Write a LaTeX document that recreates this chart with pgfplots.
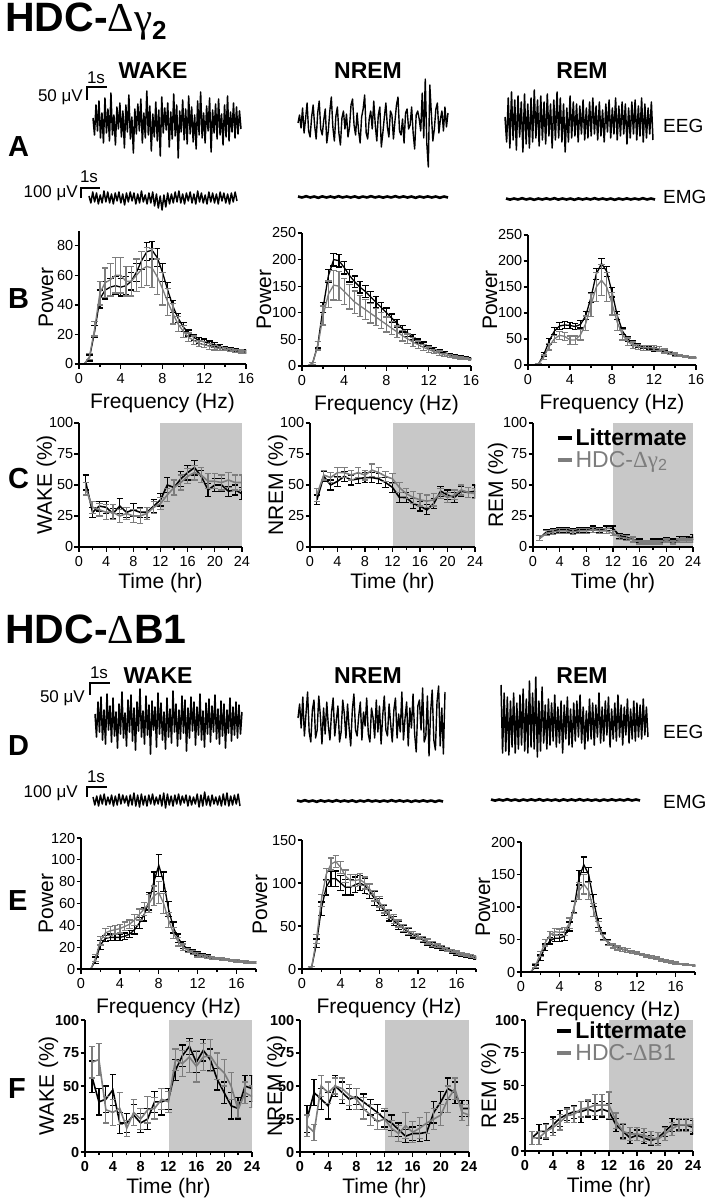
\documentclass[border=0pt]{standalone}
\usepackage{fontspec}
\setmainfont{Liberation Sans}
\newfontfamily\symf{Liberation Serif}
\usepackage{pgfplots}
\usepackage{pgfplotstable}
\pgfplotsset{compat=1.18}
\definecolor{mut}{RGB}{125,125,125}
\definecolor{shade}{RGB}{200,200,200}
\newcommand{\tf}{\fontsize{14.5}{14.5}\selectfont}
\newcommand{\lf}{\fontsize{21}{21}\selectfont}

\pgfplotsset{
  panel/.style={scale only axis, axis lines*=left, axis line style={line width=1.3pt,-},
    tick align=outside, major tick length=4.5pt, minor tick length=3pt,
    every tick/.style={black,line width=1.3pt},
    tick label style={font=\tf, inner sep=1pt},
    xticklabel style={yshift=-4pt},
    label style={font=\lf},
    /pgf/number format/assume math mode=true, enlargelimits=false, axis on top,
    xlabel style={inner sep=0pt, yshift=-8pt}, anchor=south west},
  yl/.style={ylabel style={at={([xshift=-#1pt]axis description cs:0,0.5)}, anchor=base, inner sep=0pt}},
  spec/.style={panel, xmin=0, xtick distance=4, minor x tick num=1, ymin=0,
    xlabel={Frequency (Hz)}, ylabel={Power}},
  tc/.style={panel, xmin=0, xmax=24, xtick={0,4,...,24}, minor x tick num=1,
    ymin=0, ymax=100, ytick={0,25,50,75,100}, xlabel={Time (hr)},
    xlabel style={yshift=3pt}},
  trace/.style={scale only axis, hide axis, ymin=-40, ymax=40, height=80pt,
    enlarge x limits=false, clip=false, anchor=south west},
  eb/.style={error bars/.cd, y dir=both, y explicit,
    error bar style={line width=#1, solid},
    error mark options={rotate=90, line width=#1, mark size=3.2pt}},
  leg/.style={legend style={at={#1}, anchor=north west, draw=none, fill=none,
    inner sep=0pt, font=\fontsize{23}{25}\selectfont}, legend cell align=left,
    legend image code/.code={\draw[line width=4pt] (0pt,0pt) -- (14pt,0pt);}},
}

\newcommand{\trace}[5]{\begin{axis}[trace, at={(#1pt,#2pt)}, width=#3pt]
\addplot[black, line width=#4, line join=round] table[x expr=\coordindex, y index=0, header=false, row sep=\\]{#5};
\end{axis}}

% ---------- power spectra: f, littermate mean/err, mutant mean/err
\pgfplotstableread{
f m1 e1 m2 e2
0.5 0 0.5 0 0.5
1 4 2 5 2
1.5 22 4 24 5
2 44 6 48 8
2.5 50 6 55 10
3 52 6 57 11
3.5 53 6 60 12
4 52 6 60 12
4.5 53 6 56 10
5 56 6 56 10
5.5 62 6 60 11
6 70 6 64 12
6.5 76 6 66 13
7 77 6 65 13
7.5 72 6 59 12
8 62 6 51 11
8.5 50 5 42 9
9 39 4 34 7
9.5 31 3 27 5
10 25 3 22 4
10.5 21 2 18 3
11 18 2 16 3
11.5 16 2 14 2
12 15 2 13 2
12.5 14 1.5 12 2
13 13 1.5 11 1.5
13.5 12 1 10.5 1.5
14 11 1 10 1
14.5 10 1 9.5 1
15 9.5 1 9 1
15.5 9 1 8.5 1
16 8.5 1 8 1
}\specBW
\pgfplotstableread{
f m1 e1 m2 e2
0.5 0 0.5 0 0.5
1 5 2 5 2
1.5 40 6 38 8
2 110 10 95 18
2.5 170 12 135 25
3 200 12 152 28
3.5 198 12 150 27
4 185 12 140 25
4.5 170 12 130 23
5 158 11 120 21
5.5 148 11 113 20
6 140 11 106 19
6.5 130 10 99 18
7 120 10 92 16
7.5 110 9 85 15
8 100 9 78 14
8.5 90 8 71 12
9 80 7 64 11
9.5 70 6 57 10
10 62 6 51 9
10.5 54 5 45 8
11 47 4 40 7
11.5 41 4 35 6
12 36 3 31 5
12.5 32 3 27 4
13 28 2 24 4
13.5 25 2 21 3
14 22 2 19 3
14.5 20 2 17 2
15 18 1.5 15 2
15.5 16 1.5 14 2
16 14 1 13 1.5
}\specBN
\pgfplotstableread{
f m1 e1 m2 e2
0.5 0 0.5 0 0.5
1 2 1 2 1
1.5 20 4 15 4
2 45 6 35 6
2.5 65 7 50 7
3 75 7 57 8
3.5 77 7 55 8
4 76 6 48 8
4.5 74 6 48 8
5 78 7 58 10
5.5 95 8 80 14
6 130 10 115 22
6.5 175 10 150 28
7 195 10 163 30
7.5 180 10 150 28
8 140 9 118 22
8.5 95 8 82 15
9 65 6 58 10
9.5 50 5 45 7
10 42 4 38 6
10.5 38 4 35 5
11 35 3 33 5
11.5 32 3 33 5
12 30 3 33 5
12.5 28 2 31 4
13 25 2 27 4
13.5 22 2 23 3
14 20 2 20 3
14.5 18 2 18 2
15 16 1.5 16 2
15.5 15 1.5 15 2
16 14 1 14 1.5
}\specBR
\pgfplotstableread{
f m1 e1 m2 e2
0.5 0 0.5 0 0.5
1 0 0.5 0 0.5
1.5 8 3 10 3
2 22 4 26 4
2.5 28 3 33 4
3 29 3 35 4
3.5 29 3 36 4
4 29 3 37 4
4.5 30 3 39 4
5 32 3 41 4
5.5 36 4 45 5
6 42 5 50 5
6.5 50 6 55 6
7 62 8 60 8
7.5 80 9 67 9
8 95 10 70 10
8.5 80 9 60 9
9 55 7 45 7
9.5 38 5 33 5
10 28 4 25 4
10.5 22 3 20 3
11 18 2 17 2
11.5 16 2 15 2
12 14 2 13 2
12.5 12.5 1.5 12 1.5
13 11.5 1.5 11 1.5
13.5 10.5 1 10 1
14 9.8 1 9.5 1
14.5 9 1 9 1
15 8.5 1 8.5 1
15.5 8 1 8 1
16 7.5 1 7.5 1
16.5 7 1 7 1
17 6.5 1 6.5 1
17.5 6.2 1 6.2 1
18 6 1 6 1
}\specEW
\pgfplotstableread{
f m1 e1 m2 e2
0.5 0 0.5 0 0.5
1 2 1 2 1
1.5 30 5 35 5
2 70 8 80 7
2.5 95 9 110 7
3 105 9 122 7
3.5 105 9 125 7
4 100 9 118 7
4.5 95 9 108 7
5 95 9 103 7
5.5 98 9 103 7
6 100 9 104 7
6.5 97 9 100 7
7 90 8 93 6
7.5 82 8 85 6
8 75 7 78 6
8.5 68 6 70 5
9 62 6 64 5
9.5 56 5 58 5
10 51 5 53 4
10.5 47 4 48 4
11 43 4 44 4
11.5 40 4 41 3
12 37 3 38 3
12.5 34 3 35 3
13 31 3 32 3
13.5 28 3 29 3
14 26 2 27 2
14.5 24 2 25 2
15 22 2 23 2
15.5 20 2 21 2
16 18 2 19 2
16.5 16 1.5 17 1.5
17 15 1.5 16 1.5
17.5 14 1.5 15 1.5
18 13 1.5 14 1.5
}\specEN
\pgfplotstableread{
f m1 e1 m2 e2
0.5 0 0.5 0 0.5
1 0 0.5 0 0.5
1.5 8 3 10 3
2 22 4 28 4
2.5 38 5 45 5
3 48 5 57 5
3.5 52 5 62 5
4 52 5 61 5
4.5 55 6 62 6
5 70 7 75 8
5.5 100 9 100 10
6 145 11 125 13
6.5 165 12 135 15
7 150 11 125 13
7.5 110 9 95 10
8 75 7 70 8
8.5 55 5 53 5
9 46 4 45 4
9.5 41 3 40 3
10 38 3 37 3
10.5 35 3 35 3
11 33 3 33 3
11.5 31 2 31 2
12 29 2 29 2
12.5 27 2 27 2
13 25 2 25 2
13.5 23 2 23 2
14 21 2 21 2
14.5 19 2 19 2
15 17 1.5 17 1.5
15.5 15 1.5 15.5 1.5
16 14 1.5 14 1.5
16.5 12.5 1 12.5 1
17 11.5 1 11.5 1
17.5 10.5 1 10.5 1
18 10 1 10 1
}\specER

% ---------- time courses: hour, littermate mean/err, mutant mean/err
\pgfplotstableread{
t m1 e1 m2 e2
1 52 6 47 5
2 28 4 32 5
3 33 4 30 5
4 32 5 28 6
5 27 4 28 6
6 33 6 25 5
7 28 4 27 5
8 30 5 25 5
9 28 4 25 6
10 28 4 27 5
11 33 5 32 5
12 38 5 35 5
13 50 6 42 5
14 48 6 48 6
15 55 6 52 6
16 60 6 57 6
17 64 6 60 6
18 57 5 58 6
19 46 5 53 6
20 50 5 53 6
21 50 5 52 6
22 45 4 54 6
23 46 4 52 6
24 43 5 52 6
}\tcCW
\pgfplotstableread{
t m1 e1 m2 e2
1 38 4 42 5
2 57 4 58 4
3 50 4 56 4
4 53 4 60 4
5 57 4 60 4
6 54 4 58 4
7 55 4 60 4
8 56 4 58 4
9 56 4 62 5
10 55 4 60 4
11 52 4 57 4
12 48 4 55 4
13 40 4 48 4
14 40 4 43 4
15 35 4 40 5
16 33 4 38 5
17 30 4 37 5
18 35 4 38 5
19 45 4 43 4
20 42 4 40 4
21 40 4 42 4
22 45 4 46 4
23 44 4 44 4
24 45 5 43 4
}\tcCN
\pgfplotstableread{
t m1 e1 m2 e2
1 7 2 7 2
2 12 2 11 2
3 13 2 12 2
4 14 2 13 2
5 14 2 13 2
6 13 2 12 2
7 14 2 13 2
8 14 2 13 2
9 15 2 14 2
10 14 2 13 2
11 15 2 13 2
12 15 2 11 2
13 9 2 8 2
14 8 2 7 2
15 6 2 6 2
16 5 1.5 4 1.5
17 4 1.5 4 1.5
18 5 1.5 4 1.5
19 5 1.5 4 1.5
20 6 1.5 5 1.5
21 5 1.5 4 1.5
22 7 1.5 5 1.5
23 7 1.5 5 1.5
24 8 2 5 1.5
}\tcCR
\pgfplotstableread{
t m1 e1 m2 e2
1 57 12 68 12
2 38 10 70 12
3 40 10 32 10
4 47 12 30 10
5 22 8 33 12
6 22 7 18 6
7 28 8 30 10
8 22 7 25 8
9 25 8 32 10
10 38 8 33 8
11 38 10 40 8
12 40 8 38 8
13 62 8 70 8
14 73 8 67 10
15 80 6 72 12
16 68 8 65 12
17 77 8 72 10
18 70 8 73 12
19 55 8 65 10
20 45 8 60 10
21 35 10 50 10
22 33 8 32 6
23 50 8 45 8
24 48 10 42 8
}\tcFW
\pgfplotstableread{
t m1 e1 m2 e2
1 25 10 20 8
2 45 10 15 6
3 40 8 50 8
4 35 10 45 8
5 50 8 50 6
6 45 8 48 8
7 40 8 43 8
8 42 6 40 8
9 38 6 33 8
10 34 6 28 8
11 30 6 23 6
12 25 6 25 8
13 22 6 18 6
14 17 5 14 6
15 12 5 20 10
16 14 5 15 8
17 14 6 18 8
18 15 6 22 8
19 30 8 25 8
20 38 8 28 8
21 48 8 40 10
22 45 8 48 8
23 33 6 30 6
24 33 6 28 8
}\tcFN
\pgfplotstableread{
t m1 e1 m2 e2
1 10 5 10 5
2 15 5 10 5
3 15 6 15 5
4 20 6 18 6
5 25 6 22 6
6 28 5 27 5
7 30 5 28 6
8 30 8 32 6
9 32 6 33 6
10 30 6 35 8
11 32 6 35 8
12 30 6 35 10
13 20 5 23 6
14 15 5 15 6
15 10 4 13 5
16 12 4 13 5
17 10 4 12 5
18 8 4 10 5
19 10 4 9 5
20 15 4 13 5
21 20 5 17 5
22 20 4 20 5
23 20 4 20 5
24 18 5 20 5
}\tcFR

\begin{document}
\begin{tikzpicture}
\path[use as bounding box] (0pt,0pt) rectangle (706pt,-1199pt);

% ================= titles, letters, state labels
\node[anchor=base west, inner sep=0pt] at (5pt,-32pt) {\fontsize{41}{41}\selectfont\bfseries HDC-{\mdseries\symf Δγ}\raisebox{-8pt}{\fontsize{26}{26}\selectfont 2}};
\node[anchor=base west, inner sep=0pt] at (5pt,-643pt) {\fontsize{41}{41}\selectfont\bfseries HDC-{\mdseries\symf Δ}B1};
\foreach \l/\y in {A/156,B/308,C/488,D/755,E/910,F/1098}
  \node[anchor=base west, inner sep=0pt] at (8pt,-\y pt) {\fontsize{29}{29}\selectfont\bfseries \l};
\foreach \s/\x/\y in {WAKE/153/78,NREM/368/78,REM/582/78,WAKE/158/683,NREM/368/683,REM/582/683}
  \node[anchor=base, inner sep=0pt] at (\x pt,-\y pt) {\fontsize{23}{23}\selectfont\bfseries \s};
\foreach \s/\y in {EEG/132,EMG/203,EEG/738,EMG/808}
  \node[anchor=base west, inner sep=0pt] at (663pt,-\y pt) {\fontsize{19}{19}\selectfont \s};

% scale bars
\begin{scope}[line width=1.5pt]
\draw (87pt,-100pt) -- (87pt,-87pt) -- (107pt,-87pt);
\draw (81pt,-198pt) -- (81pt,-188pt) -- (100pt,-188pt);
\draw (90pt,-695pt) -- (90pt,-683pt) -- (110pt,-683pt);
\draw (87pt,-797pt) -- (87pt,-787pt) -- (107pt,-787pt);
\end{scope}
\begin{scope}[every node/.style={inner sep=0pt, font=\fontsize{17}{17}\selectfont}]
\node[anchor=base] at (96pt,-83pt) {1s};
\node[anchor=base east] at (83pt,-101pt) {50 μV};
\node[anchor=base] at (89pt,-182pt) {1s};
\node[anchor=base east] at (78pt,-197pt) {100 μV};
\node[anchor=base] at (99pt,-678pt) {1s};
\node[anchor=base east] at (85pt,-702pt) {50 μV};
\node[anchor=base] at (96pt,-782pt) {1s};
\node[anchor=base east] at (78pt,-797pt) {100 μV};
\end{scope}

% ================= row A traces
\trace{93}{-163}{148}{1.5pt}{5\\-12\\18\\-8\\22\\-15\\10\\-20\\25\\-10\\14\\-18\\30\\-12\\8\\-22\\16\\-6\\20\\-14\\12\\-25\\18\\-9\\28\\-16\\6\\-30\\14\\-11\\19\\-8\\24\\-20\\10\\-15\\32\\-12\\17\\-28\\9\\-14\\21\\-18\\13\\-33\\26\\-10\\15\\-7\\20\\-24\\11\\-16\\29\\-13\\18\\-35\\12\\-9\\23\\-17\\14\\-21\\27\\-11\\16\\-19\\8\\-26\\22\\-12\\31\\-15\\10\\-20\\17\\-8\\25\\-29\\13\\-10\\19\\-16\\24\\-12\\9\\-22\\18\\-14\\27\\-18\\11\\-9\\20\\-15\\16\\-11\\12\\-6\\}
\trace{298}{-163}{150}{1.4pt}{0\\8\\-5\\15\\-10\\4\\20\\-8\\-14\\6\\18\\-3\\-16\\10\\22\\-6\\-12\\3\\14\\-20\\-8\\12\\26\\-4\\-18\\7\\16\\-10\\-22\\5\\12\\-6\\9\\-14\\-4\\18\\24\\-2\\-12\\10\\-8\\-20\\6\\14\\28\\-10\\-16\\4\\12\\-6\\22\\-2\\-18\\8\\16\\-24\\-10\\6\\20\\-4\\-14\\12\\8\\-16\\2\\18\\26\\-8\\-12\\4\\-20\\10\\14\\-6\\-2\\16\\-10\\-26\\8\\12\\4\\-8\\30\\-15\\44\\-20\\-44\\38\\10\\-18\\-6\\14\\20\\-10\\4\\12\\-8\\16\\-4\\10\\}
\trace{505}{-162}{148}{1.5pt}{5\\-20\\24\\-26\\30\\-18\\22\\-28\\26\\-15\\20\\-30\\28\\-22\\18\\-26\\24\\-20\\32\\-16\\22\\-24\\26\\-18\\20\\-22\\28\\-14\\18\\-26\\22\\-18\\30\\-16\\24\\-20\\18\\-30\\14\\-20\\26\\-16\\20\\-14\\18\\-20\\16\\-12\\22\\-18\\14\\-16\\20\\-14\\24\\-12\\16\\-18\\20\\-14\\12\\-20\\18\\-10\\22\\-16\\14\\-12\\24\\-18\\16\\-14\\20\\-12\\18\\-22\\14\\-16\\20\\-12\\22\\-18\\16\\-14\\24\\-20\\18\\-16\\14\\-12\\20\\-18\\}
\trace{89}{-238}{148}{1.5pt}{2\\-5\\6\\-4\\5\\-6\\3\\-5\\7\\-4\\6\\-5\\4\\-6\\5\\-3\\6\\-5\\4\\-7\\5\\-4\\6\\-3\\5\\-6\\4\\-5\\7\\-4\\3\\-6\\5\\-5\\6\\-8\\4\\-10\\2\\-12\\3\\-9\\5\\-6\\4\\-5\\6\\-4\\7\\-5\\4\\-6\\5\\-3\\6\\-5\\4\\-6\\7\\-4\\5\\-5\\3\\-6\\6\\-4\\5\\-5\\4\\-6\\6\\-3\\5\\-5\\4\\-6\\5\\-4\\6\\-3\\}
\trace{298}{-237}{150}{2.6pt}{0.5\\-0.5\\0.8\\-0.5\\0.5\\-0.8\\0.6\\-0.5\\0.5\\-0.6\\0.8\\-0.5\\0.5\\-0.5\\0.6\\-0.8\\0.5\\-0.5\\0.8\\-0.5\\0.5\\-0.6\\0.5\\-0.5\\0.8\\-0.5\\0.6\\-0.5\\0.5\\-0.8\\0.5\\-0.5\\0.6\\-0.5\\0.5\\-0.8\\0.5\\-0.5\\}
\trace{506}{-239}{149}{2.6pt}{0.5\\-0.6\\0.5\\-0.5\\0.8\\-0.5\\0.5\\-0.8\\0.5\\-0.5\\0.6\\-0.5\\0.8\\-0.6\\0.5\\-0.5\\0.5\\-0.8\\0.6\\-0.5\\0.5\\-0.5\\0.8\\-0.5\\0.5\\-0.6\\0.5\\-0.8\\0.5\\-0.5\\0.6\\-0.5\\0.5\\-0.5\\0.8\\-0.5\\0.5\\-0.5\\}

% ================= row D traces
\trace{95}{-762}{147}{1.5pt}{8\\-15\\20\\-10\\25\\-18\\12\\-22\\28\\-8\\16\\-20\\24\\-14\\10\\-26\\18\\-12\\30\\-16\\9\\-24\\22\\-10\\27\\-19\\14\\-28\\20\\-9\\33\\-15\\11\\-22\\26\\-13\\17\\-32\\21\\-8\\15\\-25\\29\\-12\\19\\-18\\10\\-27\\24\\-15\\13\\-21\\31\\-10\\18\\-24\\12\\-17\\26\\-11\\22\\-29\\14\\-16\\25\\-9\\20\\-23\\15\\-13\\28\\-18\\11\\-25\\19\\-12\\23\\-20\\16\\-10\\27\\-17\\13\\-22\\21\\-14\\18\\-26\\12\\-11\\24\\-19\\15\\-13\\20\\-16\\17\\-12\\10\\}
\trace{298}{-762}{147}{1.4pt}{4\\18\\-6\\25\\-14\\8\\30\\-10\\-20\\12\\22\\-16\\-8\\26\\6\\-22\\14\\-12\\20\\-4\\-18\\10\\24\\-14\\2\\16\\-20\\-10\\22\\8\\-16\\18\\-6\\-24\\12\\28\\-8\\-14\\6\\20\\-18\\10\\-4\\24\\-12\\-20\\14\\4\\-16\\22\\-10\\16\\-22\\6\\26\\-8\\-14\\18\\-2\\-20\\12\\24\\-16\\8\\-10\\30\\-18\\4\\20\\-24\\14\\-6\\28\\-12\\-30\\16\\22\\-8\\34\\-20\\-14\\26\\-34\\10\\32\\-18\\-28\\20\\36\\-24\\14\\-32\\30\\}
\trace{501}{-763}{147}{1.5pt}{38\\-30\\30\\-28\\26\\-32\\22\\-24\\30\\-30\\20\\-26\\28\\-22\\34\\-28\\24\\-30\\42\\-24\\30\\-26\\46\\-34\\22\\-28\\36\\-20\\18\\-26\\24\\-22\\20\\-18\\28\\-24\\16\\-20\\22\\-30\\18\\-16\\26\\-22\\14\\-24\\20\\-18\\22\\-14\\28\\-20\\16\\-26\\12\\-18\\24\\-16\\20\\-22\\18\\-14\\30\\-20\\16\\-18\\22\\-12\\26\\-24\\14\\-16\\20\\-18\\28\\-14\\18\\-22\\16\\-12\\24\\-20\\14\\-16\\22\\-18\\20\\-14\\18\\-16\\24\\-12\\16\\-14\\}
\trace{93}{-840}{147}{1.5pt}{3\\-5\\4\\-6\\5\\-4\\6\\-5\\3\\-4\\5\\-6\\4\\-5\\6\\-4\\5\\-3\\4\\-6\\5\\-5\\7\\-6\\5\\-7\\6\\-5\\4\\-6\\5\\-4\\6\\-5\\3\\-4\\5\\-6\\7\\-8\\6\\-5\\4\\-6\\5\\-4\\6\\-5\\4\\-3\\5\\-6\\4\\-5\\3\\-4\\6\\-7\\5\\-6\\8\\-5\\4\\-6\\5\\-4\\3\\-5\\4\\-6\\6\\-5\\7\\-6\\4\\-5\\5\\-4\\6\\-6\\}
\trace{297}{-841}{146}{2.6pt}{0.5\\-0.5\\0.8\\-0.5\\0.5\\-0.8\\0.6\\-0.5\\0.5\\-0.6\\0.8\\-0.5\\0.5\\-0.5\\0.6\\-0.8\\0.5\\-0.5\\0.8\\-0.5\\0.5\\-0.6\\0.5\\-0.5\\0.8\\-0.5\\0.6\\-0.5\\0.5\\-0.8\\0.5\\-0.5\\0.6\\-0.5\\0.5\\-0.8\\0.5\\-0.5\\}
\trace{491}{-840}{149}{2.6pt}{0.5\\-0.6\\0.5\\-0.5\\0.8\\-0.5\\0.5\\-0.8\\0.5\\-0.5\\0.6\\-0.5\\0.8\\-0.6\\0.5\\-0.5\\0.5\\-0.8\\0.6\\-0.5\\0.5\\-0.5\\0.8\\-0.5\\0.5\\-0.6\\0.5\\-0.8\\0.5\\-0.5\\0.6\\-0.5\\0.5\\-0.5\\0.8\\-0.5\\0.5\\-0.5\\}

% ================= row B spectra
\begin{axis}[spec, yl=26, at={(79pt,-364pt)}, width=167pt, height=133pt, xmax=16, ymax=90, ytick={0,20,...,80}]
\addplot[black, line width=1.3pt, eb=1.3pt] table[x=f,y=m1,y error=e1]{\specBW};
\addplot[mut, line width=1.3pt, eb=1.3pt] table[x=f,y=m2,y error=e2]{\specBW};
\end{axis}
\begin{axis}[spec, yl=31, at={(302pt,-366pt)}, width=169pt, height=133pt, xmax=16, ymax=250, ytick distance=50]
\addplot[black, line width=1.3pt, eb=1.3pt] table[x=f,y=m1,y error=e1]{\specBN};
\addplot[mut, line width=1.3pt, eb=1.3pt] table[x=f,y=m2,y error=e2]{\specBN};
\end{axis}
\begin{axis}[spec, yl=31, at={(528pt,-365pt)}, width=168pt, height=130pt, xmax=16, ymax=250, ytick distance=50]
\addplot[black, line width=1.3pt, eb=1.3pt] table[x=f,y=m1,y error=e1]{\specBR};
\addplot[mut, line width=1.3pt, eb=1.3pt] table[x=f,y=m2,y error=e2]{\specBR};
\end{axis}

% ================= row C time courses
\begin{axis}[tc, yl=27, at={(79pt,-547pt)}, width=163pt, height=124pt, ylabel={WAKE (\%)}]
\addplot[fill=shade, draw=none, forget plot] coordinates {(12,100) (24,100)} \closedcycle;
\addplot[black, line width=1.6pt, eb=1.2pt] table[x=t,y=m1,y error=e1]{\tcCW};
\addplot[mut, line width=1.6pt, eb=1.2pt] table[x=t,y=m2,y error=e2]{\tcCW};
\end{axis}
\begin{axis}[tc, yl=27, at={(310pt,-547pt)}, width=165pt, height=124pt, ylabel={NREM (\%)}]
\addplot[fill=shade, draw=none, forget plot] coordinates {(12,100) (24,100)} \closedcycle;
\addplot[black, line width=1.6pt, eb=1.2pt] table[x=t,y=m1,y error=e1]{\tcCN};
\addplot[mut, line width=1.6pt, eb=1.2pt] table[x=t,y=m2,y error=e2]{\tcCN};
\end{axis}
\begin{axis}[tc, yl=30, at={(533pt,-547pt)}, width=160pt, height=124pt, ylabel={REM (\%)}, leg={(0.14,0.97)}]
\addplot[fill=shade, draw=none, forget plot] coordinates {(12,100) (24,100)} \closedcycle;
\addplot[black, line width=1.6pt, eb=1.2pt] table[x=t,y=m1,y error=e1]{\tcCR};
\addlegendentry{\textbf{Littermate}}
\addplot[mut, line width=1.6pt, eb=1.2pt] table[x=t,y=m2,y error=e2]{\tcCR};
\addlegendentry{\textcolor{mut}{HDC-{\symf Δγ}\textsubscript{2}}}
\end{axis}

% ================= row E spectra
\begin{axis}[spec, yl=28, at={(81pt,-969pt)}, width=175pt, height=131pt, xmax=18, ymax=120, ytick distance=20]
\addplot[black, line width=1.3pt, eb=1.3pt] table[x=f,y=m1,y error=e1]{\specEW};
\addplot[mut, line width=1.3pt, eb=1.3pt] table[x=f,y=m2,y error=e2]{\specEW};
\end{axis}
\begin{axis}[spec, yl=35, at={(302pt,-969pt)}, width=174pt, height=129pt, xmax=18, ymax=150, ytick distance=50]
\addplot[black, line width=1.3pt, eb=1.3pt] table[x=f,y=m1,y error=e1]{\specEN};
\addplot[mut, line width=1.3pt, eb=1.3pt] table[x=f,y=m2,y error=e2]{\specEN};
\end{axis}
\begin{axis}[spec, yl=31, at={(521pt,-972pt)}, width=174pt, height=130pt, xmax=18, ymax=200, ytick distance=50]
\addplot[black, line width=1.3pt, eb=1.3pt] table[x=f,y=m1,y error=e1]{\specER};
\addplot[mut, line width=1.3pt, eb=1.3pt] table[x=f,y=m2,y error=e2]{\specER};
\end{axis}

% ================= row F time courses
\begin{axis}[tc, yl=31, at={(85pt,-1152pt)}, width=167pt, height=132pt, ylabel={WAKE (\%)}, tick label style={font=\tf\bfseries}]
\addplot[fill=shade, draw=none, forget plot] coordinates {(12,100) (24,100)} \closedcycle;
\addplot[black, line width=1.6pt, eb=1.2pt] table[x=t,y=m1,y error=e1]{\tcFW};
\addplot[mut, line width=1.6pt, eb=1.2pt] table[x=t,y=m2,y error=e2]{\tcFW};
\end{axis}
\begin{axis}[tc, yl=18, at={(300pt,-1152pt)}, width=169pt, height=132pt, ylabel={NREM (\%)}, tick label style={font=\tf\bfseries}]
\addplot[fill=shade, draw=none, forget plot] coordinates {(12,100) (24,100)} \closedcycle;
\addplot[black, line width=1.6pt, eb=1.2pt] table[x=t,y=m1,y error=e1]{\tcFN};
\addplot[mut, line width=1.6pt, eb=1.2pt] table[x=t,y=m2,y error=e2]{\tcFN};
\end{axis}
\begin{axis}[tc, yl=29, at={(525pt,-1151pt)}, width=168pt, height=131pt, ylabel={REM (\%)}, tick label style={font=\tf\bfseries}, leg={(0.18,1.0)}]
\addplot[fill=shade, draw=none, forget plot] coordinates {(12,100) (24,100)} \closedcycle;
\addplot[black, line width=1.6pt, eb=1.2pt] table[x=t,y=m1,y error=e1]{\tcFR};
\addlegendentry{\textbf{Littermate}}
\addplot[mut, line width=1.6pt, eb=1.2pt] table[x=t,y=m2,y error=e2]{\tcFR};
\addlegendentry{\textcolor{mut}{HDC-{\symf Δ}B1}}
\end{axis}
\end{tikzpicture}
\end{document}
